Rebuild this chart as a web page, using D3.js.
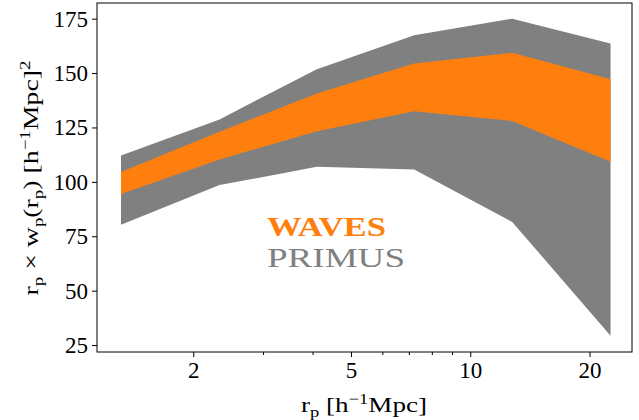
<!DOCTYPE html>
<html>
<head>
<meta charset="utf-8">
<script src="https://cdn.jsdelivr.net/npm/d3@7"></script>
<style>
  html, body { margin: 0; padding: 0; background: #fff; }
  svg, svg text, svg tspan { font-family: "Liberation Serif", "Times New Roman", Tinos !important; }
</style>
</head>
<body>
<svg id="chart" width="639" height="420" font-family="Liberation Serif"></svg>
<script>
// Data
const rp = [1.314, 2.33, 4.10, 7.22, 12.76, 22.6];
const primusLow  = [80.3, 98.5, 106.9, 105.7, 81.6, 29.3];
const primusHigh = [112.1, 128.7, 151.8, 167.4, 175.0, 163.6];
const wavesLow   = [94.4, 110.3, 123.3, 132.5, 128.0, 109.2];
const wavesHigh  = [104.5, 123.0, 140.6, 154.4, 159.3, 147.2];
const yTicks = [25, 50, 75, 100, 125, 150, 175];
const xMajorTicks = [2, 5, 10, 20];
const xMinorTicks = [3, 4, 6, 7, 8, 9];
const legendLabels = ["WAVES", "PRIMUS"];

const FONT = '"Liberation Serif", "Times New Roman"';
const W = 639, H = 420;
const margin = {left: 97, right: 7, top: 3, bottom: 68};
const svg = d3.select("#chart");
const g = svg.append("g");

const x = d3.scaleLog().domain([1.143, 25.6]).range([margin.left, W - margin.right]);
const y = d3.scaleLinear().domain([21.8, 182.2]).range([H - margin.bottom, margin.top]);

const area = (lo, hi) => d3.area()
  .x((d, i) => x(rp[i]))
  .y0((d, i) => y(lo[i]))
  .y1((d, i) => y(hi[i]))(rp);

g.append("path").attr("d", area(primusLow, primusHigh)).attr("fill", "#808080");
g.append("path").attr("d", area(wavesLow, wavesHigh)).attr("fill", "#ff7f0e");

// Frame
g.append("rect")
  .attr("x", margin.left).attr("y", margin.top)
  .attr("width", W - margin.left - margin.right)
  .attr("height", H - margin.top - margin.bottom)
  .attr("fill", "none").attr("stroke", "#000").attr("stroke-width", 1);

// Y axis
const yAxis = d3.axisLeft(y).tickValues(yTicks).tickSize(5).tickPadding(4);
const ya = g.append("g").attr("transform", `translate(${margin.left},0)`).call(yAxis);
ya.attr("font-family", null);
ya.select(".domain").remove();
ya.selectAll("text").attr("font-size", 23).attr("fill", "#000").style("font-family", FONT);

// X axis major
const xAxis = d3.axisBottom(x).tickValues(xMajorTicks).tickFormat(d3.format("d")).tickSize(5).tickPadding(5);
const xa = g.append("g").attr("transform", `translate(0,${H - margin.bottom})`).call(xAxis);
xa.attr("font-family", null);
xa.select(".domain").remove();
xa.selectAll("text").attr("font-size", 23).attr("fill", "#000").style("font-family", FONT);
// X axis minor
const xAxisMinor = d3.axisBottom(x).tickValues(xMinorTicks).tickFormat("").tickSize(3);
const xm = g.append("g").attr("transform", `translate(0,${H - margin.bottom})`).call(xAxisMinor);
xm.select(".domain").remove();

// Axis labels
const xl = svg.append("text").attr("x", 364).attr("y", 412)
  .attr("text-anchor", "middle").attr("font-size", 22).attr("fill", "#000")
  .attr("textLength", 126).attr("lengthAdjust", "spacingAndGlyphs")
  .style("font-family", FONT);
xl.append("tspan").text("r");
xl.append("tspan").text("p").attr("font-size", 15).attr("dy", 5);
xl.append("tspan").text(" [h").attr("dy", -5);
xl.append("tspan").text("−1").attr("font-size", 15).attr("dy", -8);
xl.append("tspan").text("Mpc]").attr("dy", 8);

const yl = svg.append("text")
  .attr("transform", "translate(38,178) rotate(-90)")
  .attr("text-anchor", "middle").attr("font-size", 22).attr("fill", "#000")
  .attr("textLength", 235).attr("lengthAdjust", "spacingAndGlyphs")
  .style("font-family", FONT);
yl.append("tspan").text("r");
yl.append("tspan").text("p").attr("font-size", 15).attr("dy", 5);
yl.append("tspan").text(" × w").attr("dy", -5);
yl.append("tspan").text("p").attr("font-size", 15).attr("dy", 5);
yl.append("tspan").text("(r").attr("dy", -5);
yl.append("tspan").text("p").attr("font-size", 15).attr("dy", 5);
yl.append("tspan").text(")  [h").attr("dy", -5);
yl.append("tspan").text("−1").attr("font-size", 15).attr("dy", -8);
yl.append("tspan").text("Mpc]").attr("dy", 8);
yl.append("tspan").text("2").attr("font-size", 15).attr("dy", -8);

// Legend texts
const legendColors = ["#ff7f0e", "#808080"];
const legendWeights = ["bold", "normal"];
const legendY = [236, 267];
const legendW = [119, 138];
legendLabels.forEach((t, i) => {
  svg.append("text").attr("x", 267).attr("y", legendY[i])
    .attr("font-size", 27).attr("font-weight", legendWeights[i])
    .attr("textLength", legendW[i]).attr("lengthAdjust", "spacingAndGlyphs")
    .attr("fill", legendColors[i]).style("font-family", FONT).text(t);
});
</script>
</body>
</html>
